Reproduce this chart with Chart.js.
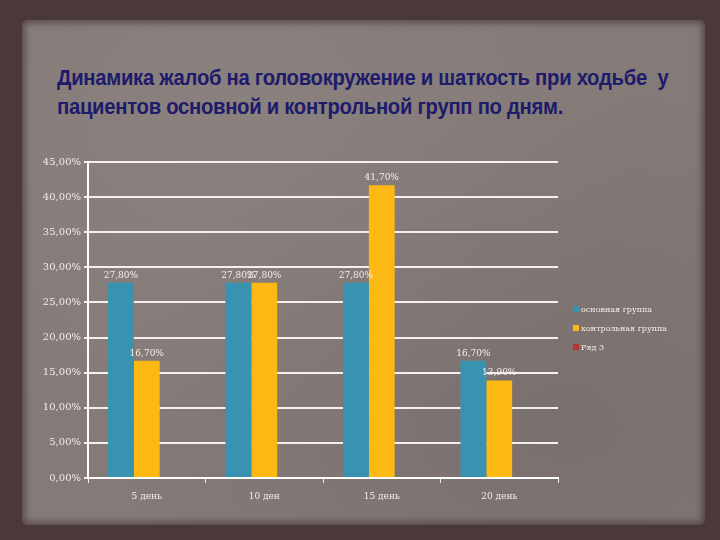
<!DOCTYPE html>
<html>
<head>
<meta charset="utf-8">
<script src="https://cdn.jsdelivr.net/npm/chart.js@4.4.1/dist/chart.umd.min.js"></script>
<style>
  html, body { margin: 0; padding: 0; }
  body { width: 720px; height: 540px; position: relative; overflow: hidden;
         background: #4b3838; }
  .panel { position: absolute; left: 22px; top: 20px; width: 683px; height: 505px;
           background:
             radial-gradient(ellipse at 30% 20%, rgba(150,140,138,0.35), rgba(0,0,0,0) 60%),
             radial-gradient(ellipse at 80% 80%, rgba(90,80,80,0.25), rgba(0,0,0,0) 60%),
             #847a78;
           border-radius: 6px;
           box-shadow: 0 0 6px 3px rgba(60,40,40,0.6) inset; }
  .title { position: absolute; left: 57px; top: 63px; white-space: nowrap;
           font-family: "Liberation Sans", sans-serif;
           font-weight: bold; font-size: 22px; line-height: 29px; color: #1d1b6a;
           letter-spacing: -0.3px; transform: scaleX(0.92); transform-origin: left top; }
  canvas { position: absolute; left: 0; top: 0; }
  .legend { position: absolute; left: 573px; top: 304px;
            font-family: "DejaVu Serif", serif; font-size: 8px; color: #f2ece8; }
  .legend div { height: 19px; line-height: 12px; white-space: nowrap; }
  .legend span { display: inline-block; width: 6px; height: 6px; margin-right: 2px; }
</style>
</head>
<body>
<div class="panel"></div>
<div class="title">Динамика жалоб на головокружение и шаткость при ходьбе&nbsp; у<br>пациентов основной и контрольной групп по дням.</div>
<canvas id="chart" width="720" height="540"></canvas>
<div class="legend" id="legend"></div>
<script>
const categories = ['5 день', '10 ден', '15 день', '20 день'];
const seriesNames = ['основная группа', 'контрольная группа', 'Ряд 3'];
const mainGroup = [27.8, 27.8, 27.8, 16.7];
const controlGroup = [16.7, 27.8, 41.7, 13.9];
const row3 = [null, null, null, null];
const colors = ['#3893b1', '#fcb813', '#c0302c'];
const yTicks = [0, 5, 10, 15, 20, 25, 30, 35, 40, 45];

const fmt = v => v.toFixed(2).replace('.', ',') + '%';

// подписи значений над столбцами
const valueLabels = {
  id: 'valueLabels',
  afterDatasetsDraw(chart) {
    const ctx = chart.ctx;
    ctx.save();
    ctx.font = '9px "DejaVu Serif", serif';
    ctx.fillStyle = '#f4eeea';
    ctx.textAlign = 'center';
    ctx.textBaseline = 'bottom';
    chart.data.datasets.forEach((ds, i) => {
      const meta = chart.getDatasetMeta(i);
      meta.data.forEach((bar, j) => {
        const v = ds.data[j];
        if (v == null) return;
        ctx.fillText(fmt(v), bar.x, bar.y - 3);
      });
    });
    ctx.restore();
  }
};

new Chart(document.getElementById('chart'), {
  type: 'bar',
  data: {
    labels: categories,
    datasets: [
      { label: seriesNames[0], data: mainGroup, backgroundColor: colors[0] },
      { label: seriesNames[1], data: controlGroup, backgroundColor: colors[1] },
      { label: seriesNames[2], data: row3, backgroundColor: colors[2] }
    ]
  },
  options: {
    responsive: false,
    animation: false,
    layout: { padding: { left: 0, right: 162, top: 162, bottom: 0 } },
    datasets: { bar: { categoryPercentage: 0.66, barPercentage: 1.0 } },
    scales: {
      x: {
        afterFit: s => { s.height = 62; },
        grid: { drawOnChartArea: false, drawTicks: true, tickLength: 5, color: '#f2ece8', offset: true },
        border: { color: '#ffffff', width: 2 },
        ticks: { color: '#f2ece8', font: { family: '"DejaVu Serif", serif', size: 9 }, padding: 8 }
      },
      y: {
        min: 0, max: 45,
        afterFit: s => { s.width = 88; },
        afterBuildTicks: s => { s.ticks = yTicks.map(v => ({ value: v })); },
        grid: { color: '#f4f0ee', lineWidth: 2, tickLength: 4 },
        border: { color: '#ffffff', width: 2 },
        ticks: {
          color: '#f2ece8', padding: 3,
          font: { family: '"DejaVu Serif", serif', size: 10 },
          callback: v => fmt(v)
        }
      }
    },
    plugins: { legend: { display: false }, tooltip: { enabled: false } }
  },
  plugins: [valueLabels]
});

const legend = document.getElementById('legend');
seriesNames.forEach((n, i) => {
  const d = document.createElement('div');
  d.innerHTML = '<span style="background:' + colors[i] + '"></span>' + n;
  legend.appendChild(d);
});
</script>
</body>
</html>
